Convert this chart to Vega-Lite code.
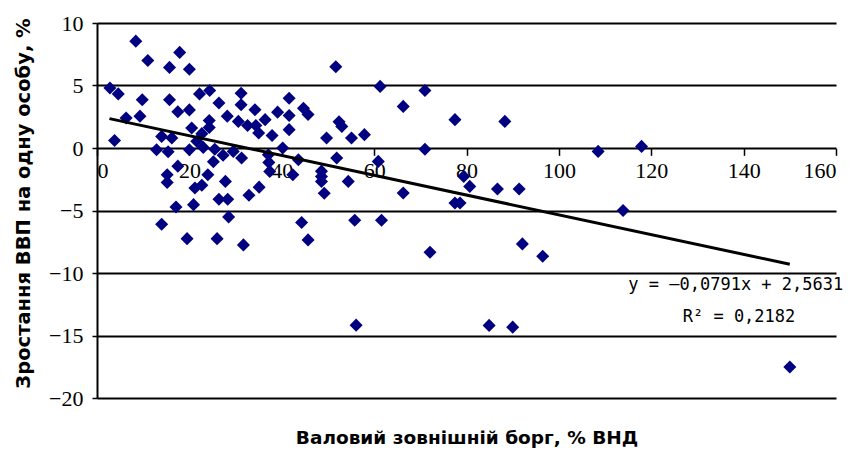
{
  "$schema": "https://vega.github.io/schema/vega-lite/v6.json",
  "width": 739,
  "height": 375,
  "autosize": "none",
  "padding": {"left": 97, "top": 23, "right": 18, "bottom": 51},
  "background": "white",
  "config": {"view": {"stroke": null}, "axis": {"labelColor": "black", "titleColor": "black"}},
  "datasets": {
    "points": [
      {"debt": 8.4, "growth": 8.55}, {"debt": 11.0, "growth": 7.0}, {"debt": 17.9, "growth": 7.65}, {"debt": 15.7, "growth": 6.45},
      {"debt": 20.0, "growth": 6.3}, {"debt": 51.7, "growth": 6.5}, {"debt": 2.8, "growth": 4.8}, {"debt": 4.6, "growth": 4.33},
      {"debt": 9.8, "growth": 3.86}, {"debt": 15.7, "growth": 3.86}, {"debt": 17.5, "growth": 2.9}, {"debt": 20.0, "growth": 3.05},
      {"debt": 6.3, "growth": 2.4}, {"debt": 9.3, "growth": 2.55}, {"debt": 3.8, "growth": 0.6}, {"debt": 22.2, "growth": 4.33},
      {"debt": 24.4, "growth": 4.6}, {"debt": 26.4, "growth": 3.6}, {"debt": 28.2, "growth": 2.55}, {"debt": 31.2, "growth": 4.38},
      {"debt": 31.2, "growth": 3.46}, {"debt": 34.2, "growth": 3.06}, {"debt": 36.4, "growth": 2.27}, {"debt": 39.1, "growth": 2.87},
      {"debt": 24.3, "growth": 2.2}, {"debt": 24.3, "growth": 1.65}, {"debt": 20.5, "growth": 1.6}, {"debt": 30.6, "growth": 2.13},
      {"debt": 32.6, "growth": 1.8}, {"debt": 34.4, "growth": 1.8}, {"debt": 35.0, "growth": 1.2}, {"debt": 37.9, "growth": 1.0},
      {"debt": 14.0, "growth": 0.93}, {"debt": 16.2, "growth": 0.8}, {"debt": 22.7, "growth": 1.15}, {"debt": 21.6, "growth": 0.54},
      {"debt": 12.9, "growth": -0.14}, {"debt": 15.4, "growth": -0.3}, {"debt": 20.0, "growth": -0.14}, {"debt": 23.0, "growth": 0.05},
      {"debt": 25.5, "growth": -0.1}, {"debt": 17.5, "growth": -1.45}, {"debt": 25.2, "growth": -1.1}, {"debt": 27.3, "growth": -0.58},
      {"debt": 29.5, "growth": -0.27}, {"debt": 31.3, "growth": -0.8}, {"debt": 41.6, "growth": 3.98}, {"debt": 44.7, "growth": 3.18},
      {"debt": 45.7, "growth": 2.68}, {"debt": 41.6, "growth": 2.6}, {"debt": 41.6, "growth": 1.47}, {"debt": 40.2, "growth": 0.0},
      {"debt": 49.7, "growth": 0.8}, {"debt": 52.4, "growth": 2.1}, {"debt": 53.0, "growth": 1.73}, {"debt": 55.1, "growth": 0.8},
      {"debt": 57.9, "growth": 1.07}, {"debt": 61.3, "growth": 4.93}, {"debt": 71.0, "growth": 4.6}, {"debt": 66.3, "growth": 3.33},
      {"debt": 77.5, "growth": 2.27}, {"debt": 71.0, "growth": -0.1}, {"debt": 37.1, "growth": -0.54}, {"debt": 37.2, "growth": -1.15},
      {"debt": 37.4, "growth": -1.87}, {"debt": 43.6, "growth": -0.94}, {"debt": 51.9, "growth": -0.8}, {"debt": 60.9, "growth": -1.07},
      {"debt": 42.4, "growth": -2.14}, {"debt": 48.6, "growth": -1.85}, {"debt": 48.6, "growth": -2.28}, {"debt": 48.6, "growth": -2.68},
      {"debt": 49.2, "growth": -3.62}, {"debt": 54.4, "growth": -2.67}, {"debt": 66.3, "growth": -3.6}, {"debt": 77.5, "growth": -4.4},
      {"debt": 78.6, "growth": -4.4}, {"debt": 79.4, "growth": -2.27}, {"debt": 80.7, "growth": -3.07}, {"debt": 44.3, "growth": -5.96},
      {"debt": 45.7, "growth": -7.35}, {"debt": 55.8, "growth": -5.78}, {"debt": 61.6, "growth": -5.78}, {"debt": 72.1, "growth": -8.34},
      {"debt": 56.1, "growth": -14.17}, {"debt": 88.3, "growth": 2.13}, {"debt": 108.5, "growth": -0.27}, {"debt": 117.9, "growth": 0.13},
      {"debt": 86.7, "growth": -3.28}, {"debt": 91.4, "growth": -3.28}, {"debt": 113.9, "growth": -5.0}, {"debt": 92.1, "growth": -7.67},
      {"debt": 96.5, "growth": -8.66}, {"debt": 84.9, "growth": -14.19}, {"debt": 90.0, "growth": -14.33}, {"debt": 150.0, "growth": -17.52},
      {"debt": 15.2, "growth": -2.14}, {"debt": 15.2, "growth": -2.75}, {"debt": 24.0, "growth": -2.14}, {"debt": 22.7, "growth": -2.98},
      {"debt": 21.2, "growth": -3.2}, {"debt": 27.8, "growth": -2.67}, {"debt": 26.4, "growth": -4.1}, {"debt": 28.3, "growth": -4.1},
      {"debt": 32.9, "growth": -3.78}, {"debt": 35.1, "growth": -3.13}, {"debt": 17.1, "growth": -4.72}, {"debt": 20.9, "growth": -4.53},
      {"debt": 28.5, "growth": -5.51}, {"debt": 14.0, "growth": -6.1}, {"debt": 19.5, "growth": -7.25}, {"debt": 26.0, "growth": -7.25},
      {"debt": 31.7, "growth": -7.75}
    ],
    "trend": [
      {"debt": 2.7, "growth": 2.35},
      {"debt": 150.0, "growth": -9.30}
    ],
    "labels": [
      {"debt": 138.3, "growth": -10.95, "label": "y = –0,0791x + 2,5631"},
      {"debt": 139.0, "growth": -13.5, "label": "R² = 0,2182"}
    ]
  },
  "layer": [
    {
      "data": {"name": "points"},
      "mark": {"type": "point", "shape": "diamond", "filled": true, "size": 170, "color": "#000080", "opacity": 1},
      "encoding": {
        "x": {
          "field": "debt", "type": "quantitative",
          "scale": {"domain": [0, 160], "nice": false, "zero": false},
          "axis": {
            "title": "Валовий зовнішній борг, % ВНД",
            "values": [0, 20, 40, 60, 80, 100, 120, 140, 160],
            "offset": -249.7,
            "grid": false,
            "domain": false,
            "tickColor": "black", "tickSize": 7, "tickWidth": 1.5,
            "labelFont": "Liberation Sans Narrow", "labelFontSize": 22, "labelPadding": 5,
            "titleFont": "DejaVu Sans", "titleFontWeight": "bold", "titleFontSize": 18.5,
            "titleY": 289, "titleBaseline": "middle"
          }
        },
        "y": {
          "field": "growth", "type": "quantitative",
          "scale": {"domain": [-20, 10], "nice": false, "zero": false},
          "axis": {
            "title": "Зростання ВВП на одну особу, %",
            "values": [-20, -15, -10, -5, 0, 5, 10],
            "grid": true, "gridColor": "black", "gridWidth": 2, "gridOpacity": 1,
            "domainColor": "black", "domainWidth": 2,
            "tickColor": "black", "tickSize": 5, "tickWidth": 1.5,
            "labelFont": "Liberation Sans Narrow", "labelFontSize": 22, "labelPadding": 9,
            "titleFont": "DejaVu Sans", "titleFontWeight": "bold", "titleFontSize": 19.5,
            "titleX": -74, "titleY": 180, "titleBaseline": "middle", "titleAngle": -90, "titleAlign": "center"
          }
        }
      }
    },
    {
      "data": {"name": "trend"},
      "mark": {"type": "line", "color": "black", "strokeWidth": 3},
      "encoding": {
        "x": {"field": "debt", "type": "quantitative"},
        "y": {"field": "growth", "type": "quantitative"}
      }
    },
    {
      "data": {"name": "labels"},
      "mark": {"type": "text", "font": "DejaVu Sans Mono", "fontSize": 17, "color": "black", "align": "center", "baseline": "middle"},
      "encoding": {
        "x": {"field": "debt", "type": "quantitative"},
        "y": {"field": "growth", "type": "quantitative"},
        "text": {"field": "label", "type": "nominal"}
      }
    }
  ]
}
